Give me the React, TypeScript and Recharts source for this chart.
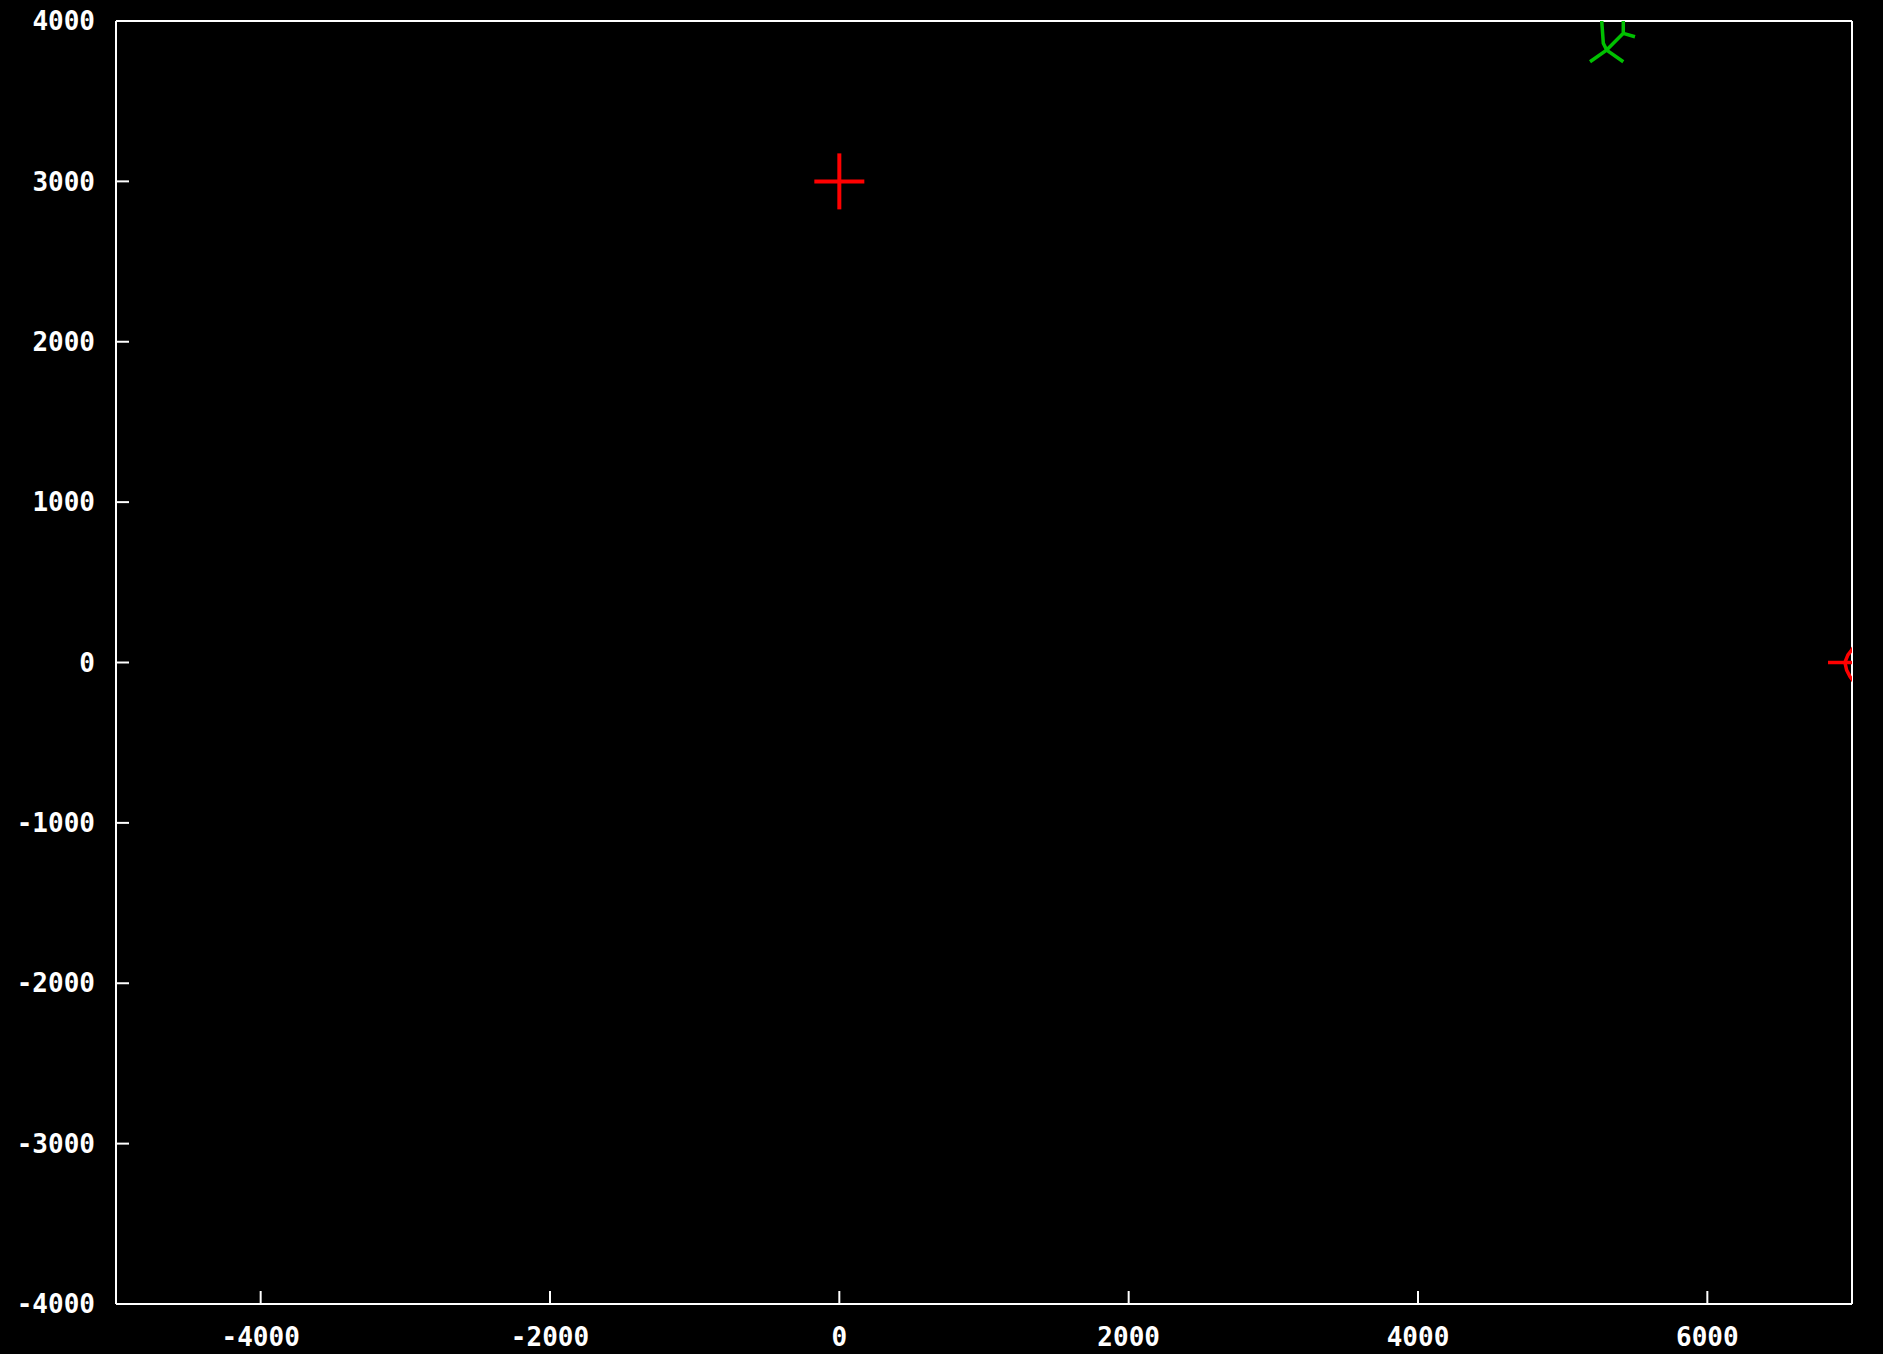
import React from 'react';
import { ScatterChart, Scatter, XAxis, YAxis } from 'recharts';

// Axis ranges and tick positions
const xDomain: [number, number] = [-5000, 7000];
const yDomain: [number, number] = [-4000, 4000];
const xTicks = [-4000, -2000, 0, 2000, 4000, 6000];
const yTicks = [-4000, -3000, -2000, -1000, 0, 1000, 2000, 3000, 4000];

// Cross marker (red)
const crossPoints = [{ x: 0, y: 3000 }];

// Red stub and curve at the right border
const redStub = [
  { x: 6834, y: 0 },
  { x: 7000, y: 0 },
];
const redArc = [
  { x: 7021, y: 109 },
  { x: 6998, y: 78 },
  { x: 6972, y: 47 },
  { x: 6958, y: 16 },
  { x: 6951, y: 0 },
  { x: 6963, y: -47 },
  { x: 6986, y: -88 },
  { x: 7021, y: -130 },
];

// Green branching track near the top border
const greenStemA = [
  { x: 5270, y: 4000 },
  { x: 5281, y: 3861 },
  { x: 5304, y: 3819 },
];
const greenLegs = [
  { x: 5189, y: 3746 },
  { x: 5304, y: 3819 },
  { x: 5419, y: 3746 },
];
const greenStemB = [
  { x: 5304, y: 3819 },
  { x: 5419, y: 3923 },
  { x: 5419, y: 4000 },
];
const greenTwig = [
  { x: 5419, y: 3923 },
  { x: 5500, y: 3902 },
];

const RED = '#ff0000';
const GREEN = '#00c000';
const WHITE = '#ffffff';

const tickFont = {
  fill: WHITE,
  fontFamily: '"DejaVu Sans Mono", monospace',
  fontWeight: 700,
  fontSize: 26,
};

const CrossShape = (props: any) => {
  const { cx, cy } = props;
  if (cx == null || cy == null) return <g />;
  return (
    <g>
      <line x1={cx - 25} x2={cx + 25} y1={cy} y2={cy} stroke={RED} strokeWidth={4} />
      <line x1={cx} x2={cx} y1={cy - 28} y2={cy + 28} stroke={RED} strokeWidth={4} />
    </g>
  );
};

const NoDot = () => <g />;

export default function App() {
  const axisLine = { stroke: WHITE, strokeWidth: 2 };
  const tickLine = { stroke: WHITE, strokeWidth: 2 };
  const redLine = { stroke: RED, strokeWidth: 3.5 };
  const greenLine = { stroke: GREEN, strokeWidth: 3.5 };
  return (
    <div
      style={{
        position: 'absolute',
        left: 0,
        top: 0,
        width: 1883,
        height: 1354,
        background: '#000000',
      }}
    >
      <ScatterChart
        width={1883}
        height={1354}
        margin={{ top: 0, right: 0, bottom: 0, left: 0 }}
        style={{ background: '#000000' }}
      >
        <XAxis
          xAxisId="b"
          type="number"
          dataKey="x"
          domain={xDomain}
          ticks={xTicks}
          allowDataOverflow
          orientation="bottom"
          height={50}
          axisLine={axisLine}
          tickLine={tickLine}
          tickSize={-13}
          tickMargin={37}
          tick={tickFont}
          interval={0}
        />
        <XAxis
          xAxisId="t"
          type="number"
          dataKey="x"
          domain={xDomain}
          ticks={xTicks}
          allowDataOverflow
          orientation="top"
          height={21}
          axisLine={axisLine}
          tickLine={tickLine}
          tickSize={-13}
          tick={false}
          interval={0}
        />
        <YAxis
          yAxisId="l"
          type="number"
          dataKey="y"
          domain={yDomain}
          ticks={yTicks}
          allowDataOverflow
          orientation="left"
          width={116}
          axisLine={axisLine}
          tickLine={tickLine}
          tickSize={-13}
          tickMargin={34}
          tick={tickFont}
          interval={0}
        />
        <YAxis
          yAxisId="r"
          type="number"
          dataKey="y"
          domain={yDomain}
          ticks={yTicks}
          allowDataOverflow
          orientation="right"
          width={31}
          axisLine={axisLine}
          tickLine={tickLine}
          tickSize={-13}
          tick={false}
          interval={0}
        />
        <Scatter xAxisId="b" yAxisId="l" data={redStub} line={redLine} shape={NoDot} isAnimationActive={false} />
        <Scatter xAxisId="b" yAxisId="l" data={redArc} line={redLine} shape={NoDot} isAnimationActive={false} />
        <Scatter xAxisId="b" yAxisId="l" data={crossPoints} shape={CrossShape} isAnimationActive={false} />
        <Scatter xAxisId="b" yAxisId="l" data={greenStemA} line={greenLine} shape={NoDot} isAnimationActive={false} />
        <Scatter xAxisId="b" yAxisId="l" data={greenLegs} line={greenLine} shape={NoDot} isAnimationActive={false} />
        <Scatter xAxisId="b" yAxisId="l" data={greenStemB} line={greenLine} shape={NoDot} isAnimationActive={false} />
        <Scatter xAxisId="b" yAxisId="l" data={greenTwig} line={greenLine} shape={NoDot} isAnimationActive={false} />
      </ScatterChart>
    </div>
  );
}
